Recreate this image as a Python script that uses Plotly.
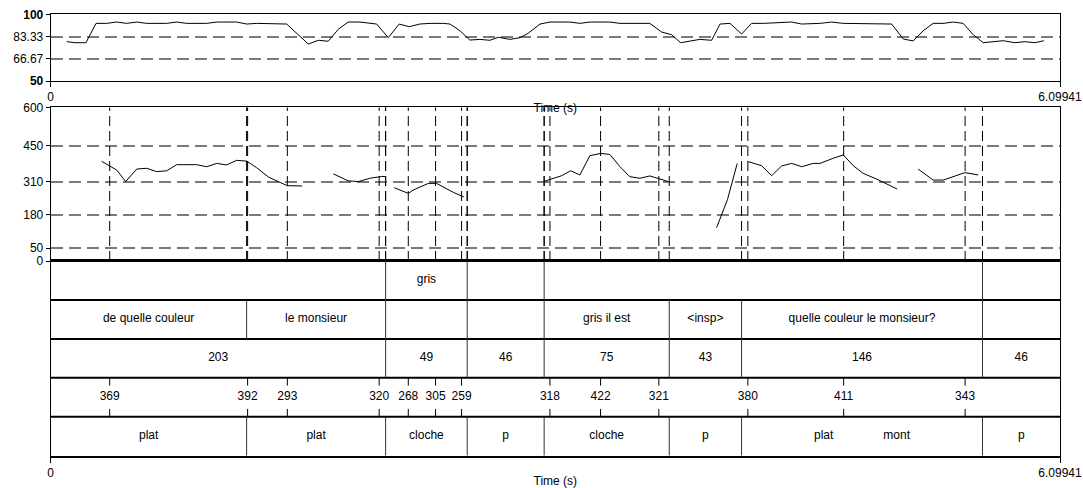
import plotly.graph_objects as go

T_END = 6.09941

# ---- top panel (0-100 scale) ----
top_t = [0.097, 0.147, 0.213, 0.274, 0.338, 0.399, 0.459, 0.520, 0.580, 0.701, 0.761, 0.822,
         0.943, 1.003, 1.124, 1.184, 1.245, 1.426, 1.557, 1.617, 1.677, 1.738, 1.798, 1.869,
         1.970, 2.040, 2.106, 2.167, 2.231, 2.292, 2.372, 2.413, 2.473, 2.533, 2.594, 2.654,
         2.705, 2.775, 2.836, 2.886, 2.957, 3.017, 3.138, 3.198, 3.258, 3.379, 3.440, 3.621,
         3.692, 3.752, 3.807, 3.923, 3.994, 4.045, 4.105, 4.175, 4.236, 4.306, 4.477, 4.538,
         4.648, 4.719, 4.789, 5.082, 5.152, 5.212, 5.273, 5.333, 5.393, 5.454, 5.514, 5.575,
         5.635, 5.756, 5.827, 5.887, 5.947, 6.002]
top_v = [79.5, 78.7, 78.7, 93.2, 93.2, 94.2, 93.2, 94.2, 93.2, 93.2, 94.2, 93.2,
         93.2, 94.2, 94.2, 92.7, 93.2, 92.7, 77.7, 80.5, 79.8, 88.8, 94.2, 94.2,
         92.7, 82.5, 92.7, 90.7, 92.7, 93.2, 93.2, 92.7, 87.7, 80.7, 81.2, 80.5,
         82.8, 81.2, 82.5, 85.8, 92.7, 94.2, 94.2, 93.2, 94.2, 94.2, 93.2, 93.2,
         86.7, 84.7, 78.7, 81.2, 80.5, 92.7, 93.2, 85.2, 93.2, 93.2, 94.2, 92.7,
         93.2, 94.2, 93.2, 92.7, 81.5, 80.0, 87.7, 93.2, 93.2, 94.2, 93.2, 84.7,
         78.7, 80.2, 78.7, 79.5, 78.7, 80.2]
top_ticks = [50, 66.67, 83.33, 100]
top_ticktext = ["<b>50</b>", "66.67", "83.33", "<b>100</b>"]

# ---- pitch panel (Hz), one list per voiced stretch ----
pitch_t = [
    [0.308, 0.358, 0.399, 0.453, 0.520, 0.580, 0.640, 0.701, 0.761, 0.882, 0.943, 1.003,
     1.063, 1.124, 1.184, 1.245, 1.315, 1.375, 1.430, 1.520],
    [1.708, 1.798, 1.859, 1.929, 2.000, 2.020],
    [2.076, 2.161, 2.191, 2.282, 2.332, 2.433, 2.497],
    [2.987, 3.088, 3.142, 3.198, 3.258, 3.323, 3.379, 3.440, 3.500, 3.561, 3.621, 3.682, 3.732],
    [4.024, 4.090, 4.149],
    [4.215, 4.296, 4.357, 4.417, 4.478, 4.538, 4.608, 4.649, 4.729, 4.790, 4.850, 4.910,
     4.991, 5.115],
    [5.242, 5.333, 5.394, 5.454, 5.525, 5.605],
]
pitch_v = [
    [389, 371, 355, 310, 359, 362, 349, 352, 376, 376, 368, 381, 375, 393, 390, 364, 328,
     310, 294, 293],
    [340, 313, 310, 323, 330, 330],
    [286, 264, 277, 303, 303, 268, 250],
    [312, 333, 352, 336, 411, 420, 416, 368, 329, 323, 332, 319, 310],
    [130, 240, 381],
    [388, 372, 333, 371, 381, 368, 381, 381, 401, 414, 372, 342, 320, 281],
    [359, 316, 316, 329, 345, 336],
]
pitch_ticks = [0, 50, 180, 310, 450, 600]

# ---- annotation tiers ----
tier1_bounds = [0, 2.024, 2.517, 2.982, 5.631, T_END]
tier1_labels = ["", "gris", "", "", ""]
tier2_bounds = [0, 1.184, 2.024, 2.517, 2.982, 3.738, 4.175, 5.631, T_END]
tier2_labels = ["de quelle couleur", "le monsieur", "", "", "gris il est", "<insp>",
                "quelle couleur le monsieur?", ""]
tier3_bounds = [0, 2.024, 2.517, 2.982, 3.738, 4.175, 5.631, T_END]
tier3_labels = ["203", "49", "46", "75", "43", "146", "46"]
tier4_times = [0.3565, 1.190, 1.430, 1.985, 2.161, 2.326, 2.483, 3.017, 3.323, 3.675,
               4.213, 4.792, 5.526]
tier4_labels = ["369", "392", "293", "320", "268", "305", "259", "318", "422", "321",
                "380", "411", "343"]
tier5_bounds = [0, 1.184, 2.024, 2.517, 2.982, 3.738, 4.175, 5.631, T_END]
tier5_labels = ["plat", "plat", "cloche", "p", "cloche", "p",
                "plat" + "\u00a0" * 15 + "mont", "p"]

W, H = 1083, 488
FONT = "Liberation Sans, Arial, sans-serif"


def ydom(top_px, bot_px):
    return [1 - bot_px / H, 1 - top_px / H]


XDOM = [50.7 / W, 1060 / W]

fig = go.Figure()

# top curve
fig.add_trace(go.Scatter(x=top_t, y=top_v, mode="lines", line=dict(color="black", width=1),
                         xaxis="x", yaxis="y", hoverinfo="skip"))

# pitch curve
px_, py_ = [], []
for ts, vs in zip(pitch_t, pitch_v):
    px_ += ts + [None]
    py_ += vs + [None]
fig.add_trace(go.Scatter(x=px_, y=py_, mode="lines", line=dict(color="black", width=1),
                         xaxis="x2", yaxis="y2", hoverinfo="skip"))

# vertical dashed lines in pitch panel
dashed_times = tier4_times + [b for b in tier5_bounds[1:-1]] + [b for b in tier1_bounds[1:-1]]
vx, vy = [], []
for t in dashed_times:
    vx += [t, t, None]
    vy += [0, 600, None]
fig.add_trace(go.Scatter(x=vx, y=vy, mode="lines",
                         line=dict(color="black", width=1, dash="10px,5px"),
                         xaxis="x2", yaxis="y2", hoverinfo="skip"))

# tiers: rows y in [0,5]; tier k (0..4) occupies [4-k, 5-k]
tiers = [(tier1_bounds, tier1_labels), (tier2_bounds, tier2_labels),
         (tier3_bounds, tier3_labels), None, (tier5_bounds, tier5_labels)]

hx, hy = [], []
for yy in [1, 2, 3, 4]:
    hx += [0, T_END, None]
    hy += [yy, yy, None]
fig.add_trace(go.Scatter(x=hx, y=hy, mode="lines", line=dict(color="black", width=2),
                         xaxis="x3", yaxis="y3", hoverinfo="skip"))

bx, by = [], []
tx, ty, tt = [], [], []
for k, tier in enumerate(tiers):
    top = 5 - k
    bot = 4 - k
    if tier is None:
        continue
    bounds, labels = tier
    for b in bounds[1:-1]:
        bx += [b, b, None]
        by += [bot, top, None]
    for i, lab in enumerate(labels):
        if lab:
            tx.append((bounds[i] + bounds[i + 1]) / 2)
            ty.append(bot + 0.5)
            tt.append(lab.replace("<", "&lt;").replace(">", "&gt;"))
fig.add_trace(go.Scatter(x=bx, y=by, mode="lines", line=dict(color="#333333", width=1),
                         xaxis="x3", yaxis="y3", hoverinfo="skip"))

# point tier (y in [1,2]) tick marks
pkx, pky = [], []
for t in tier4_times:
    pkx += [t, t, None, t, t, None]
    pky += [2, 1.8, None, 1, 1.2, None]
    tx.append(t)
    ty.append(1.5)
tt += tier4_labels
fig.add_trace(go.Scatter(x=pkx, y=pky, mode="lines", line=dict(color="black", width=1),
                         xaxis="x3", yaxis="y3", hoverinfo="skip"))

fig.add_trace(go.Scatter(x=tx, y=ty, text=tt, mode="text",
                         textfont=dict(family=FONT, size=12, color="black"),
                         textposition="middle center", cliponaxis=False,
                         xaxis="x3", yaxis="y3", hoverinfo="skip"))

axis_common = dict(showline=True, linecolor="black", mirror=True, zeroline=False,
                   automargin=False, tickfont=dict(family=FONT, size=12, color="black"))

fig.update_layout(
    width=W, height=H, margin=dict(l=0, r=0, t=0, b=0),
    paper_bgcolor="white", plot_bgcolor="white", showlegend=False,
    font=dict(family=FONT, size=12, color="black"),
    xaxis=dict(domain=XDOM, anchor="y", range=[0, T_END], showgrid=False,
               tickvals=[0, T_END], ticktext=["0", "6.09941"], ticks="outside", ticklen=5,
               tickcolor="black", linewidth=1,
               title=dict(text="Time (s)", standoff=0, font=dict(family=FONT, size=12)),
               **axis_common),
    yaxis=dict(domain=ydom(14.3, 81), anchor="x", range=[50, 100],
               tickvals=top_ticks, ticktext=top_ticktext, ticks="outside", ticklen=4,
               tickcolor="black", showgrid=True, gridcolor="#7a7a7a", gridwidth=2,
               griddash="12px,6px", linewidth=1, **axis_common),
    xaxis2=dict(domain=XDOM, anchor="y2", range=[0, T_END], showgrid=False,
                showticklabels=False, ticks="", linewidth=1, **axis_common),
    yaxis2=dict(domain=ydom(107.3, 261), anchor="x2", range=[0, 600],
                tickvals=pitch_ticks, ticks="outside", ticklen=4, tickcolor="black",
                showgrid=True, gridcolor="#7a7a7a", gridwidth=2, griddash="12px,6px",
                linewidth=1, **axis_common),
    xaxis3=dict(domain=XDOM, anchor="y3", range=[0, T_END], showgrid=False,
                tickvals=[0, T_END], ticktext=["0", "6.09941"], ticks="outside", ticklen=5,
                tickcolor="black", linewidth=2,
                title=dict(text="Time (s)", standoff=0, font=dict(family=FONT, size=12)),
                **axis_common),
    yaxis3=dict(domain=ydom(261, 455.7), anchor="x3", range=[0, 5], showgrid=False,
                showticklabels=False, ticks="", linewidth=1, **axis_common),
)

fig.write_html("out.html", config={"displayModeBar": False},
               post_script="document.body.style.margin='0px';document.body.style.padding='0px';")
